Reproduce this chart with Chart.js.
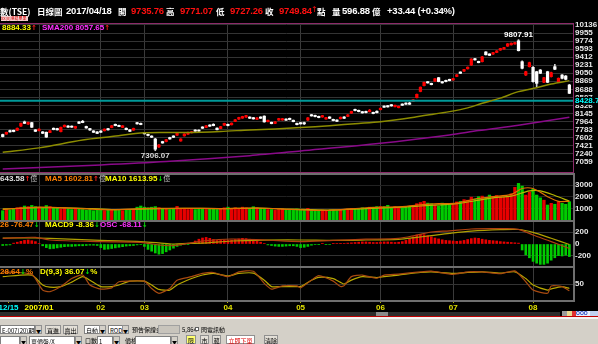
<!DOCTYPE html>
<html>
<head>
<meta charset="utf-8">
<script src="https://cdn.jsdelivr.net/npm/chart.js@4.4.1/dist/chart.umd.min.js"></script>
<style>
  body { margin: 0; background: #000; width: 598px; height: 344px; overflow: hidden; position: relative; font-family: "Liberation Sans", Arial, sans-serif; }
  canvas { position: absolute; left: 0; }
  .t { position: absolute; white-space: nowrap; line-height: 12px; top: 5px; color: #fff; z-index: 5; }
  .n { font: bold 9.5px "Liberation Sans", Arial, sans-serif; letter-spacing: -0.2px; }
  .c { font: bold 8.5px "Noto Sans CJK TC", sans-serif; }
  .red { color: #ff1010; }
  .lg { position: absolute; white-space: nowrap; font: bold 8px "Liberation Sans", Arial, sans-serif; line-height: 8px; z-index: 5; }
  .lg i { font-style: normal; font-family: "DejaVu Sans", sans-serif; font-size: 7px; }
  .lg b { font-weight: normal; font-family: "Noto Sans CJK TC", sans-serif; font-size: 7px; color: #c0c0c0; }
  .up { color: #ff2020; } .dn { color: #00e000; }
  #bar { position: absolute; left: 0; top: 319px; width: 598px; height: 25px; background: #d4d0c8; z-index: 5; font: 6px "Noto Sans CJK TC", sans-serif; color: #000; }
  #bar div { position: absolute; height: 9px; line-height: 9px; white-space: nowrap; box-sizing: border-box; }
  .fld { background: #fff; border: 1px solid #808080; padding-left: 1px; overflow: hidden; }
  .btn { background: #e4e0d8; border: 1px solid #909090; text-align: center; }
  .arr { background: #d4d0c8; border: 1px solid #909090; width: 7px; font-size: 5px; text-align: center; }
</style>
</head>
<body>

<div class="t c" style="left:0">數(TSE)</div>
<div class="t c" style="left:37px">日線圖</div>
<div class="t n" style="left:66px">2017/04/18</div>
<div class="t c" style="left:118px">開</div><div class="t n red" style="left:131px">9735.76</div>
<div class="t c" style="left:166px">高</div><div class="t n red" style="left:180px">9771.07</div>
<div class="t c" style="left:216px">低</div><div class="t n red" style="left:230px">9727.26</div>
<div class="t c" style="left:265px">收</div><div class="t n red" style="left:279px">9749.84</div>
<div class="t red" style="left:311px;font:8px 'DejaVu Sans'">↑</div>
<div class="t c" style="left:317px">點</div>
<div class="t c" style="left:332px">量</div><div class="t n" style="left:342px">596.88</div>
<div class="t c" style="left:372px">億</div>
<div class="t n" style="left:387px">+33.44 (+0.34%)</div>
<div style="position:absolute;left:1px;top:16px;width:27px;height:5px;background:#f4d0d0;color:#d00000;font:4px 'Noto Sans CJK TC';line-height:5px;overflow:hidden;z-index:5">XX(0)港易單果</div>

<canvas id="priceChart" width="598" height="164" style="top:14px"></canvas>
<canvas id="volChart" width="598" height="58" style="top:168px"></canvas>
<canvas id="macdChart" width="598" height="58" style="top:215px"></canvas>
<canvas id="kdChart" width="598" height="58" style="top:262px"></canvas>

<div class="lg" style="left:2px;top:24px;color:#ffff00">8884.33<i class="up">↑</i></div>
<div class="lg" style="left:42px;top:24px;color:#ff30ff">SMA200 8057.65<i class="up">↑</i></div>

<div class="lg" style="left:0;top:174px;color:#e0e0e0">643.58<i class="up">↑</i><b>億</b></div>
<div class="lg" style="left:45px;top:174px;color:#ff8000">MA5 1602.81<i class="up">↑</i><b>億</b></div>
<div class="lg" style="left:105px;top:174px;color:#ffff00">MA10 1613.95<i class="dn">↓</i><b>億</b></div>

<div class="lg" style="left:0;top:221px;color:#ff8000">26 -76.47<i class="dn">↓</i></div>
<div class="lg" style="left:45px;top:221px;color:#ffff00">MACD9 -8.36<i class="dn">↓</i></div>
<div class="lg" style="left:100px;top:221px;color:#ff30ff">OSC -68.11<i class="dn">↓</i></div>

<div class="lg" style="left:0;top:268px;color:#ff8000">28.64<i class="dn">↓</i>%</div>
<div class="lg" style="left:40px;top:268px;color:#ffff00">D(9,3) 36.07<i class="dn">↓</i>%</div>

<div style="position:absolute;left:0;top:312px;width:560px;height:4px;background:#2c2c2c;z-index:5"></div>
<div style="position:absolute;left:376px;top:312px;width:12px;height:4px;background:#8a8a8a;z-index:5"></div>
<div style="position:absolute;left:562px;top:311px;width:5px;height:5px;background:#9a9a9a;z-index:5"></div>
<div style="position:absolute;left:567px;top:311px;width:5px;height:5px;background:#e8d890;z-index:5"></div>
<div style="position:absolute;left:572px;top:311px;width:4px;height:5px;background:#e03030;z-index:5"></div>
<div style="position:absolute;left:576px;top:311px;width:14px;height:5px;background:#e8f0ff;border:0;color:#2040c0;font:bold 5px sans-serif;line-height:5px;z-index:5">OOO</div>
<div style="position:absolute;left:590px;top:311px;width:8px;height:5px;background:#c0d0f0;z-index:5"></div>
<div style="position:absolute;left:0;top:316px;width:598px;height:1px;background:#c00000;z-index:5"></div>
<div style="position:absolute;left:0;top:317px;width:598px;height:2px;background:#f4f4f4;z-index:5"></div>

<div id="bar">
  <div class="fld" style="left:0;top:6px;width:35px">E-007(20)期末5</div><div class="arr" style="left:35px;top:6px">▼</div>
  <div class="btn" style="left:45px;top:6px;width:16px">買進</div>
  <div class="btn" style="left:63px;top:6px;width:15px">賣出</div>
  <div class="fld" style="left:84px;top:6px;width:16px">自動</div><div class="arr" style="left:99px;top:6px">▼</div>
  <div class="fld" style="left:108px;top:6px;width:15px">ROD</div><div class="arr" style="left:122px;top:6px">▼</div>
  <div style="left:132px;top:6px">預告保證金</div>
  <div style="left:158px;top:6px;width:22px;background:#c8c4bc;border:1px solid #a0a0a0"></div>
  <div style="left:182px;top:6px">5,864</div>
  <div style="left:195px;top:8px;width:4px;height:4px;border:1px solid #606060;background:#fff"></div>
  <div style="left:201px;top:6px">閃電訊動</div>
  <div class="fld" style="left:0;top:17px;width:20px"></div><div class="arr" style="left:20px;top:17px">▼</div>
  <div class="fld" style="left:29px;top:17px;width:46px">單價盤/X</div><div class="arr" style="left:75px;top:17px">▼</div>
  <div style="left:85px;top:17px">口數</div>
  <div class="fld" style="left:97px;top:17px;width:16px">1</div><div class="arr" style="left:113px;top:17px">▼</div>
  <div style="left:125px;top:17px">價格</div>
  <div class="fld" style="left:135px;top:17px;width:36px"></div><div class="arr" style="left:171px;top:17px">▼</div>
  <div class="btn" style="left:186px;top:16px;width:10px;background:#ffff70">限</div>
  <div class="btn" style="left:200px;top:16px;width:9px">市</div>
  <div class="btn" style="left:212px;top:16px;width:9px">範</div>
  <div class="btn" style="left:226px;top:16px;width:29px;color:#e00000;background:#fff">立即下單</div>
  <div class="btn" style="left:264px;top:16px;width:14px">清除</div>
</div>

<script>
// daily candles (index 0 = 2006/12/15)
const opens = [
  7670,7680,7760,7765,7765,7860,7955,7905,7938,7775,
  7755,7730,7721,7715,7812,7805,7736,7845,7862,7860,
  7815,7955,7968,7852,7805,7752,7730,7750,7755,7803,
  7828,7900,7878,7830,7812,7775,7770,7938,7922,7712,
  7675,7636,7570,7390,7512,7512,7602,7638,7655,7525,
  7640,7680,7710,7772,7770,7840,7830,7885,7900,7815,
  7805,7882,7900,7890,7965,8018,8040,8064,8064,8050,
  8012,8065,8085,7960,7946,7922,7995,7998,8020,8035,
  7992,7924,7938,7938,7995,8117,8102,8080,8066,8020,
  8066,8012,7998,8026,8066,8080,8152,8237,8215,8185,
  8192,8184,8170,8195,8230,8312,8320,8342,8296,8276,
  8357,8380,8380,8415,8500,8640,8770,8860,8822,8870,
  8950,8860,8890,8912,8898,8978,9078,9098,9150,9235,
  9378,9317,9310,9530,9484,9482,9518,9572,9596,9660,
  9690,9708,9780,9310,9010,9198,9184,9085,9123,8846,
  9085,8973,9198,8861,9011,8988,8786
];
const highs = [
  7680,7725,7770,7772,7818,7930,7975,7948,7945,7782,
  7798,7740,7728,7760,7820,7812,7840,7886,7870,7866,
  7858,7962,7990,7860,7812,7760,7738,7758,7798,7810,
  7875,7908,7885,7872,7820,7782,7815,7945,7930,7720,
  7682,7645,7585,7442,7520,7560,7610,7645,7705,7575,
  7688,7724,7738,7780,7778,7848,7872,7892,7915,7822,
  7855,7926,7908,7932,8008,8060,8082,8104,8070,8058,
  8050,8072,8092,7998,7952,7960,8036,8034,8026,8042,
  7998,7930,7944,7950,8052,8124,8108,8086,8102,8058,
  8072,8018,8004,8066,8072,8118,8196,8244,8222,8192,
  8198,8235,8176,8202,8268,8318,8326,8348,8336,8312,
  8363,8386,8400,8457,8582,8742,8852,8866,8828,8932,
  8958,8866,8896,8918,8936,9020,9084,9140,9192,9376,
  9384,9323,9426,9536,9490,9520,9558,9612,9634,9718,
  9732,9746,9808,9330,9095,9300,9200,9095,9135,8960,
  9095,9075,9250,8945,9020,9000,8800
];
const lows = [
  7615,7675,7725,7730,7760,7855,7915,7900,7828,7735,
  7750,7690,7605,7710,7775,7770,7730,7840,7830,7830,
  7810,7915,7935,7812,7765,7715,7690,7715,7750,7770,
  7822,7866,7845,7825,7775,7735,7765,7905,7890,7680,
  7640,7600,7306,7380,7472,7505,7565,7600,7650,7520,
  7635,7675,7705,7740,7740,7806,7825,7852,7866,7772,
  7800,7876,7866,7885,7960,8012,8035,8058,8030,8016,
  8008,8030,7948,7955,7910,7915,7990,7992,7986,8000,
  7955,7886,7904,7895,7990,8084,8068,8046,8060,8014,
  8030,7978,7962,8020,8030,8074,8146,8203,8180,8150,
  8158,8178,8136,8155,8224,8278,8286,8308,8290,8270,
  8323,8346,8346,8410,8494,8632,8764,8826,8788,8864,
  8856,8826,8856,8878,8892,8972,9042,9092,9144,9228,
  9344,9283,9304,9460,9446,9476,9512,9566,9590,9654,
  9684,9702,9550,9150,9000,9190,8850,8740,9040,8836,
  8836,8965,9130,8850,8925,8900,8590
];
const closes = [
  7625,7720,7730,7738,7812,7925,7922,7942,7834,7742,
  7792,7698,7612,7755,7782,7775,7834,7880,7835,7836,
  7852,7922,7940,7818,7772,7720,7695,7722,7792,7775,
  7868,7872,7850,7866,7780,7742,7808,7910,7895,7686,
  7648,7610,7340,7436,7480,7554,7570,7608,7698,7570,
  7682,7718,7732,7745,7746,7812,7866,7858,7872,7778,
  7848,7920,7872,7926,8002,8054,8076,8098,8036,8022,
  8044,8037,7955,7992,7916,7954,8030,8028,7992,8007,
  7960,7892,7910,7910,8046,8089,8074,8052,8096,8052,
  8036,7984,7968,8060,8036,8112,8190,8209,8187,8157,
  8164,8218,8142,8161,8262,8284,8292,8314,8330,8306,
  8329,8352,8352,8451,8576,8736,8846,8832,8794,8926,
  8862,8832,8862,8884,8930,9014,9048,9134,9186,9370,
  9350,9289,9420,9466,9452,9514,9552,9606,9628,9712,
  9726,9740,9558,9161,9085,9288,8860,8823,9048,8950,
  8846,9063,9139,8936,8936,8914,8598
];
const volumes = [
  800,900,850,950,1050,1100,1200,1150,1250,1150,
  1100,1050,1240,1150,1050,1000,950,1000,950,900,
  950,1000,900,850,900,800,850,850,800,900,
  850,900,850,800,850,850,900,1100,1200,1100,
  1050,1100,1150,1050,1000,950,900,1000,1170,1000,
  950,900,950,900,1000,950,900,1000,950,900,
  950,1050,1100,1000,1050,1000,1100,1050,1000,1140,
  1050,1000,950,900,900,850,900,950,900,850,
  900,950,900,850,1000,900,850,800,850,800,
  800,850,800,900,850,950,1000,950,1000,1050,
  1000,1100,1100,1150,1150,1150,1260,1050,1150,1100,
  1050,1100,1150,1200,1400,1500,1600,1450,1400,1300,
  1200,1450,1350,1300,1400,1550,1600,1750,1700,1960,
  1800,2000,2050,1900,2140,2000,2100,2000,1950,2000,
  2250,2800,3140,2910,2140,2400,2630,2140,1900,1700,
  1285,1430,1350,1570,1430,1350,1570
];
const oscBars = [
  -25,-20,-15,15,30,45,60,67,55,40,
  10,-30,-60,-80,-75,-65,-55,-45,-40,-40,
  -35,-30,-30,-25,-20,-20,-25,-60,-90,-85,
  -75,-65,-55,-45,-35,-30,-25,-15,-10,-40,
  -90,-120,-150,-170,-160,-130,-100,-70,-40,-20,
  -10,-5,20,50,80,100,110,95,75,60,
  60,65,60,65,75,85,95,90,80,70,
  50,30,10,-15,-25,-35,-40,-40,-35,-30,
  -30,-40,-60,-55,-40,-20,-10,-5,5,-5,
  -10,5,10,5,10,15,20,25,30,35,
  35,30,25,25,30,35,35,30,25,30,
  40,60,90,120,150,160,155,140,120,100,
  85,70,60,55,50,45,50,60,75,90,
  100,95,80,70,60,55,50,40,35,30,
  25,20,15,-100,-180,-230,-290,-320,-340,-340,
  -320,-270,-230,-195,-200,-185,-210
];

// moving averages / indicators read at [day index, value]
const maPrice = [[0,7270],[10,7370],[22,7548],[30,7625],[39,7710],[50,7715],[60,7740],[68,7774],[75,7795],[82,7826],[90,7870],[98,7920],[104,7960],[110,8020],[114,8073],[118,8120],[123,8186],[128,8270],[132,8373],[137,8490],[142,8636],[147,8725],[151,8808],[156,8884]];
const sma200 = [[0,6896],[27,6986],[45,7061],[68,7195],[82,7301],[104,7474],[123,7661],[131,7760],[142,7880],[156,8058]];
const volMa5 = [[0,900],[10,1100],[20,1000],[30,870],[40,1000],[50,1000],[60,980],[70,1030],[80,900],[90,830],[100,1050],[110,1150],[115,1300],[120,1400],[125,1450],[130,1800],[135,2000],[140,2200],[143,2700],[146,2700],[150,2000],[153,1600],[156,1603]];
const volMa10 = [[0,950],[10,1050],[20,1030],[30,900],[40,950],[50,1000],[60,980],[70,1020],[80,930],[90,860],[100,980],[110,1100],[115,1200],[120,1300],[125,1400],[130,1650],[135,1900],[140,2050],[145,2500],[148,2500],[152,2100],[156,1614]];
const difLine = [[0,95],[9,112],[13,67],[27,39],[38,28],[43,-17],[47,-28],[51,10],[55,50],[63,83],[72,67],[82,40],[91,60],[100,80],[109,95],[114,150],[118,200],[123,220],[129,250],[137,255],[142,245],[146,150],[151,40],[156,-76]];
const macdLine = [[0,100],[9,100],[13,95],[27,60],[38,40],[43,20],[47,0],[51,10],[55,15],[63,50],[72,65],[82,67],[91,60],[100,67],[109,78],[114,110],[118,140],[123,178],[129,215],[137,239],[142,242],[146,195],[151,95],[156,-8]];
const kLine = [[0,88],[8,80],[11,31],[13,26],[16,42],[19,67],[22,78],[24,47],[27,34],[30,38],[32,57],[35,59],[39,59],[41,36],[43,21],[46,36],[48,62],[52,73],[55,83],[58,86],[62,73],[65,88],[69,90],[72,52],[74,34],[77,44],[81,44],[82,38],[85,62],[87,76],[91,59],[93,42],[94,45],[96,73],[99,78],[103,68],[105,78],[109,81],[115,88],[118,90],[124,80],[128,88],[132,88],[137,82],[141,91],[144,57],[146,31],[150,21],[151,44],[154,42],[156,28.64]];
const dLine = [[0,73],[8,78],[11,47],[13,40],[16,42],[19,56],[22,73],[24,62],[27,42],[30,42],[32,47],[35,59],[39,59],[41,47],[43,33],[46,31],[48,47],[52,67],[55,78],[58,83],[62,75],[65,83],[69,84],[72,62],[74,42],[77,42],[81,42],[82,42],[85,62],[87,71],[91,67],[93,55],[94,50],[96,62],[99,73],[103,70],[105,73],[109,78],[115,86],[118,88],[124,83],[128,86],[132,88],[137,84],[141,88],[144,67],[146,47],[150,31],[151,35],[154,42],[156,36.07]];

const priceTicks = [10136,9955,9774,9593,9412,9231,9050,8869,8688,8507,8326,8145,7964,7783,7602,7421,7240,7059];
const volTicks = [3000,2000,1000];
const macdTicks = [200,0,-200];
const kdTicks = [50];
const monthIdx = [10,27,39,62,82,104,124,146];
const dateIdx = [1.6,10,27,39,62,82,104,124,146];
const dateLabels = ['12/15','2007/01','02','03','04','05','06','07','08'];
const refLevel = 8428.7;
const peakIdx = 142, lowIdx = 42;
const peakText = '9807.91', lowText = '7306.07';

Chart.defaults.font.family = '"Liberation Sans", Arial, sans-serif';

const days = opens.map((_, i) => i);
const up = i => closes[i] >= opens[i];
const pts = arr => arr.map(([x, y]) => ({ x, y }));

function xAxis(withLabels) {
  return {
    type: 'linear', min: -0.75, max: 157, offset: false,
    afterBuildTicks: s => { s.ticks = (withLabels ? dateIdx : monthIdx).map(v => ({ value: v })); },
    afterFit: s => { s.height = withLabels ? 16 : 0; s.paddingLeft = 0; s.paddingRight = 0; },
    grid: {
      offset: false, drawTicks: withLabels, tickLength: 3, tickColor: '#b0b000',
      color: c => (c.tick && c.tick.value === 1.6) ? 'rgba(0,0,0,0)' : '#3a3a3a'
    },
    border: { display: false },
    ticks: {
      display: withLabels, autoSkip: false, maxRotation: 0, minRotation: 0, padding: 0,
      font: { size: 8, weight: 'bold' },
      color: c => c.index === 0 ? '#00ffff' : (c.index === 1 ? '#ffff00' : '#e0e000'),
      callback: (v, i) => dateLabels[i]
    }
  };
}

function yAxis(min, max, ticks, gridColor) {
  return {
    position: 'right', min, max,
    afterBuildTicks: s => { s.ticks = ticks.map(v => ({ value: v })); },
    afterFit: s => { s.width = 25; s.paddingTop = 0; s.paddingBottom = 0; },
    grid: { color: gridColor, drawTicks: false },
    border: { display: false },
    ticks: { color: '#e8e8e8', padding: 2, autoSkip: false, font: { size: 8, weight: 'bold' }, callback: v => String(v) }
  };
}

// border round each panel
const frame = {
  id: 'frame',
  afterDraw(chart, args, o) {
    const { ctx, chartArea: a } = chart;
    ctx.save();
    ctx.fillStyle = o.color;
    ctx.fillRect(0, a.top - o.w, a.right + o.w, o.w);
    ctx.fillRect(0, a.bottom, a.right + o.w, o.w);
    ctx.fillRect(a.right, a.top - o.w, o.w, a.bottom - a.top + 2 * o.w);
    ctx.restore();
  }
};

const priceNotes = {
  id: 'priceNotes',
  afterDraw(chart) {
    const { ctx, scales: { x, y } } = chart;
    ctx.save();
    ctx.font = 'bold 8px "Liberation Sans", Arial';
    ctx.textAlign = 'center';
    ctx.fillStyle = '#ffffff';
    ctx.textBaseline = 'bottom';
    ctx.fillText(peakText, x.getPixelForValue(peakIdx), y.getPixelForValue(highs[peakIdx]) - 1);
    ctx.fillStyle = '#d8d8d8';
    ctx.textBaseline = 'top';
    ctx.fillText(lowText, x.getPixelForValue(lowIdx), y.getPixelForValue(lows[lowIdx]) + 1);
    const ry = y.getPixelForValue(refLevel);
    ctx.fillStyle = '#000';
    ctx.fillRect(y.left + 1, ry - 4, 24, 8);
    ctx.fillStyle = '#00ffff';
    ctx.textAlign = 'left';
    ctx.textBaseline = 'middle';
    ctx.fillText(refLevel.toFixed(1), y.left + 2, ry);
    ctx.restore();
  }
};

function opts(pad, x, y, frameColor, frameW) {
  return {
    responsive: false, animation: false, events: [],
    layout: { padding: pad },
    plugins: { legend: { display: false }, tooltip: { enabled: false }, frame: { color: frameColor, w: frameW } },
    scales: { x, y }
  };
}

const line = (data, color, w) => ({ type: 'line', data: pts(data), borderColor: color, borderWidth: w, pointRadius: 0, tension: 0.3, order: 1 });

new Chart(document.getElementById('priceChart'), {
  type: 'bar',
  data: {
    datasets: [
      { data: days.map(i => ({ x: i, y: [lows[i], highs[i]] })), barThickness: 1, grouped: false, order: 3,
        backgroundColor: c => up(c.dataIndex) ? '#ff2020' : '#d0d0d0' },
      { data: days.map(i => ({ x: i, y: [opens[i], closes[i]] })), barThickness: 2.6, grouped: false, order: 2,
        backgroundColor: c => up(c.dataIndex) ? '#ff0000' : '#ffffff' },
      line(maPrice, '#8c8c00', 1.5),
      line(sma200, '#8a0a8a', 1.5),
      { type: 'line', data: [{ x: -0.75, y: refLevel }, { x: 157, y: refLevel }], borderColor: '#009a9a', borderWidth: 2, pointRadius: 0, order: 1 }
    ]
  },
  options: opts({ top: 10, bottom: 6, left: 0, right: 0 }, xAxis(false), yAxis(6827, 10158.5, priceTicks, '#333333'), '#8c2a6a', 1),
  plugins: [frame, priceNotes]
});

new Chart(document.getElementById('volChart'), {
  type: 'bar',
  data: {
    datasets: [
      { data: days.map(i => ({ x: i, y: volumes[i] })), barThickness: 2.6, grouped: false, order: 2,
        backgroundColor: c => up(c.dataIndex) ? '#e80000' : '#00cc00' },
      line(volMa5, '#e07000', 1.2),
      line(volMa10, '#b8b800', 1.2)
    ]
  },
  options: opts({ top: 7, bottom: 6, left: 0, right: 0 }, xAxis(false), yAxis(0, 3860, volTicks, '#222222'), '#6e6e6e', 2),
  plugins: [frame]
});

new Chart(document.getElementById('macdChart'), {
  type: 'bar',
  data: {
    datasets: [
      { data: days.map(i => ({ x: i, y: oscBars[i] })), barThickness: 2, grouped: false, order: 2,
        backgroundColor: c => oscBars[c.dataIndex] >= 0 ? '#e80000' : '#00cc00' },
      line(difLine, '#b04010', 1.2),
      line(macdLine, '#b0a000', 1.2)
    ]
  },
  options: opts({ top: 7, bottom: 7, left: 0, right: 0 }, xAxis(false),
    yAxis(-367, 367, macdTicks, c => c.tick && c.tick.value === 0 ? 'rgba(0,0,0,0)' : '#333333'), '#6e6e6e', 2),
  plugins: [frame]
});

new Chart(document.getElementById('kdChart'), {
  type: 'line',
  data: {
    datasets: [
      { data: pts(kLine), borderColor: '#a84a10', borderWidth: 1.2, pointRadius: 0, tension: 0.2 },
      { data: pts(dLine), borderColor: '#b8a800', borderWidth: 1.2, pointRadius: 0, tension: 0.2 }
    ]
  },
  options: opts({ top: 6, bottom: 4, left: 0, right: 0 }, xAxis(true), yAxis(0, 100, kdTicks, '#333333'), '#6e6e6e', 2),
  plugins: [frame]
});
</script>
</body>
</html>
